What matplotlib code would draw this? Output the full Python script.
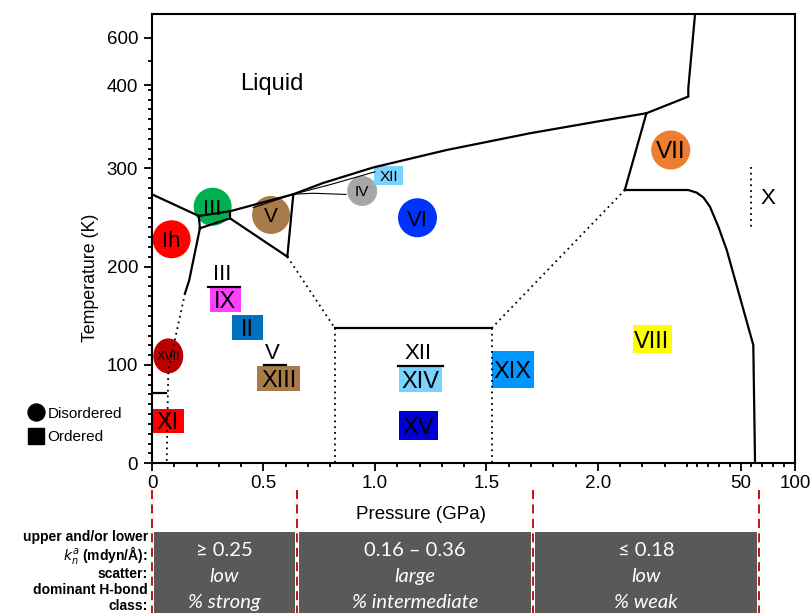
import matplotlib
matplotlib.use('Agg')
import matplotlib.pyplot as plt
import matplotlib.transforms as mtransforms
from matplotlib.patches import Ellipse, Rectangle
from matplotlib.lines import Line2D
import numpy as np

plt.rcParams['font.family'] = ['Liberation Sans', 'DejaVu Sans']

# Break points of the compressed pressure / temperature axes
p_knots = [0, 2.4, 10, 100]
p_units = [0, 535, 545, 643]
t_knots = [0, 384, 400, 600, 700]
t_units = [0, 377.5, 378.3, 425.6, 449]

# Coexistence lines, (P in GPa, T in K)
ih_liquid = ([0, 0.21], [273.6, 251.6])
ih_iii = ([0.21, 0.215], [251.6, 239.1])
ih_ii = ([0.215, 0.167, 0.148], [239.1, 186.3, 172.9])
ih_xi = ([0, 0.061], [71.2, 71.2])
iii_liquid = ([0.21, 0.35], [251.6, 256.4])
v_liquid = ([0.35, 0.634], [256.4, 273.7])
iii_v = ([0.35, 0.35], [256.4, 249.2])
ii_iii = ([0.215, 0.35], [239.1, 249.2])
ii_v = ([0.35, 0.607], [249.2, 210.2])
v_vi = ([0.634, 0.607], [273.7, 210.2])
vi_xv = ([0.8206, 1.523], [137.3, 137.3])
liquid_vi = ([0.634, 0.767, 0.992, 1.322, 1.695, 1.994, 2.218],
             [273.7, 285.1, 300.9, 318.7, 335.7, 347.5, 356.1])
vi_vii = ([2.218, 2.121], [356.1, 278])
liquid_vii = ([2.218, 3.39, 3.39, 8.5], [356.1, 373, 381.5, 700])
vii_viii = ([2.121, 3.39, 9.77, 16.0, 21.9, 29.6, 37.3, 61.7, 63.3],
            [278, 278, 275.3, 270.3, 261, 240.7, 217, 120.3, 0])

# Metastable melting lines of IV and XII
iv_liquid = ([0.454, 0.634, 0.722, 0.87], [260, 273.7, 274.7, 273.5])
xii_liquid = ([0.634, 0.80, 1.0], [273.7, 283.5, 296.5])

# Order-disorder transitions (dotted)
ih_xi_dotted = ([0.148, 0.0731, 0.0659], [172.9, 94.9, 0])
ii_vi_dotted = ([0.607, 0.8206], [210.2, 137.3])
xv_left = ([0.8206, 0.8206], [137.3, 0])
xv_right = ([1.523, 1.523], [137.3, 0])
xix_viii = ([1.523, 2.121], [137.3, 278])
vii_x = ([59.3, 59.3], [301.7, 239.4])

# Disordered phases (circles)
disordered = ['Ih', 'III', 'V', 'IV', 'VI', 'VII', 'XVII']
disordered_p = [0.088, 0.272, 0.534, 0.943, 1.191, 2.327, 0.073]
disordered_t = [227.9, 261.0, 252.6, 277.0, 249.8, 318.7, 109.2]
disordered_colors = ['#FF0000', '#00B050', '#A97B48', '#A6A6A6',
                     '#0033FF', '#ED7D31', '#BC0000']

# Ordered phases (boxes)
ordered = ['XI', 'IX', 'II', 'XIII', 'XIV', 'XV', 'XIX', 'XII', 'VIII']
ordered_p = [0.072, 0.329, 0.429, 0.568, 1.203, 1.194, 1.618, 1.061, 2.243]
ordered_t = [43.5, 166.4, 138.1, 86.5, 85.6, 38.5, 95.6, 293.0, 126.2]
ordered_colors = ['#FF0000', '#FF40FF', '#0070C0', '#A97B48', '#7AD3FF',
                  '#0000D6', '#0096FF', '#7AD3FF', '#FFFF00']

# Disordered parent written over its ordered form
stacked_parent = ['III', 'V', 'XII']
stacked_child = ['IX', 'XIII', 'XIV']

# Axis ticks
p_major = [0, 0.5, 1.0, 1.5, 2.0, 50, 100]
p_major_labels = ['0', '0.5', '1.0', '1.5', '2.0', '50', '100']
p_minor = [round(0.1 * i, 1) for i in range(1, 25) if i % 5] + [10, 20, 30, 40, 60, 70, 80, 90]
t_major = [0, 100, 200, 300, 400, 600]
t_minor = [t for t in range(10, 300, 10) if t % 100] + list(range(310, 390, 10)) + [500]

# H-bond force constant table below the axis
column_edges = [0, 0.65, 1.707, 67.2]
k_ranges = ['\u2265 0.25', '0.16 \u2013 0.36', '\u2264 0.18']
scatter_level = ['low', 'large', 'low']
hbond_class = ['% strong', '% intermediate', '% weak']
row_names = ['upper and/or lower', '$k_n^a$ (mdyn/\u00c5):', 'scatter:',
             'dominant H-bond', 'class:']


def piecewise(v, xs, ys):
    v = np.asarray(v, dtype=float)
    out = np.interp(v, xs, ys)
    lo = (ys[1] - ys[0]) / (xs[1] - xs[0])
    hi = (ys[-1] - ys[-2]) / (xs[-1] - xs[-2])
    out = np.where(v < xs[0], ys[0] + (v - xs[0]) * lo, out)
    out = np.where(v > xs[-1], ys[-1] + (v - xs[-1]) * hi, out)
    return out


fig = plt.figure(figsize=(8.11, 6.13), dpi=100)
ax = fig.add_axes([152 / 811, 1 - 463.3 / 613, 643 / 811, 449 / 613])
ax.set_xscale('function', functions=(lambda v: piecewise(v, p_knots, p_units),
                                     lambda u: piecewise(u, p_units, p_knots)))
ax.set_yscale('function', functions=(lambda v: piecewise(v, t_knots, t_units),
                                     lambda u: piecewise(u, t_units, t_knots)))

solid = dict(color='black', lw=1.6, solid_joinstyle='miter', zorder=4)
thin = dict(color='black', lw=0.8, zorder=4)
dotted = dict(color='black', lw=1.3, linestyle=(0, (1, 2.2)), zorder=4)

for line in [ih_liquid, ih_iii, ih_ii, ih_xi, iii_liquid, v_liquid, iii_v, ii_iii,
             ii_v, v_vi, vi_xv, liquid_vi, vi_vii, liquid_vii, vii_viii]:
    ax.plot(*line, **solid)
for line in [iv_liquid, xii_liquid]:
    ax.plot(*line, **thin)
for line in [ih_xi_dotted, ii_vi_dotted, xv_left, xv_right, xix_viii, vii_x]:
    ax.plot(*line, **dotted)


def anchored(p, t):
    # inch-sized shapes centred on a data point
    return fig.dpi_scale_trans + mtransforms.ScaledTranslation(p, t, ax.transData)


circle_px = [(38, 38), (38, 38), (38, 38), (30, 30), (39, 39), (39, 39), (30, 35)]
circle_fs = [16, 16, 15, 11, 16, 17.5, 9]
for name, p, t, c, (w, h), fs in zip(disordered, disordered_p, disordered_t,
                                     disordered_colors, circle_px, circle_fs):
    ax.add_patch(Ellipse((0, 0), w / 100, h / 100, transform=anchored(p, t),
                         facecolor=c, edgecolor='none', zorder=2))
    ax.text(p, t, name, ha='center', va='center_baseline', fontsize=fs, zorder=6)

box_px = [(32, 24), (31, 24), (31, 25), (43, 25), (43, 25), (39, 29), (42, 37), (29, 19), (39, 28)]
box_fs = [17, 17, 17, 17, 17, 17, 17, 11, 17]
for name, p, t, c, (w, h), fs in zip(ordered, ordered_p, ordered_t,
                                     ordered_colors, box_px, box_fs):
    ax.add_patch(Rectangle((-w / 200, -h / 200), w / 100, h / 100,
                           transform=anchored(p, t), facecolor=c,
                           edgecolor='none', zorder=2))
    ax.text(p, t, name, ha='center', va='center_baseline', fontsize=fs, zorder=6)

# parent label + bar above the ordered box
parent_dx = [-3, -6, -2]
bar_dx = [-1, -4, 0]
bar_w = [32, 22, 45]
for parent, child, pdx, bdx, bw in zip(stacked_parent, stacked_child, parent_dx, bar_dx, bar_w):
    i = ordered.index(child)
    p, t = ordered_p[i], ordered_t[i]
    h = box_px[i][1]
    ax.add_line(Line2D([(bdx - bw / 2) / 100, (bdx + bw / 2) / 100],
                       [(h / 2 + 1) / 100] * 2, transform=anchored(p, t),
                       color='black', lw=1.6, zorder=5))
    ax.annotate(parent, (p, t), xytext=(pdx * 0.72, 27.7 * 0.72),
                textcoords='offset points', ha='center', va='center_baseline',
                fontsize=16, zorder=6)

ax.text(0.538, 415, 'Liquid', ha='center', va='center_baseline', fontsize=17)
ax.text(75.2, 271.5, 'X', ha='center', va='center_baseline', fontsize=16)

ax.set_xlim(0, 100)
ax.set_ylim(0, 700)
ax.set_xticks(p_major)
ax.set_xticklabels(p_major_labels)
ax.set_xticks(p_minor, minor=True)
ax.set_yticks(t_major)
ax.set_yticks(t_minor, minor=True)
ax.tick_params(which='both', direction='out', width=1.3, labelsize=13.5, top=False, right=False)
ax.tick_params(which='major', length=5.5)
ax.tick_params(which='minor', length=3)
ax.tick_params(axis='y', pad=4.5)
ax.tick_params(axis='x', pad=3)
for s in ax.spines.values():
    s.set_linewidth(1.5)

ax.set_xlabel('Pressure (GPa)', fontsize=13.5)
ax.xaxis.set_label_coords((421 - 152) / 643, -0.095)
ax.set_ylabel('Temperature (K)', fontsize=12.8)
ax.yaxis.set_label_coords(-0.083, 0.412)

legend_handles = [Line2D([], [], marker='o', color='black', ls='none', markersize=12.2),
                  Line2D([], [], marker='s', color='black', ls='none', markersize=12)]
ax.legend(legend_handles, ['Disordered', 'Ordered'], loc='upper left',
          bbox_to_anchor=(27.2 / 811, 1 - 406.5 / 613), bbox_transform=fig.transFigure,
          frameon=False, fontsize=11, borderpad=0, borderaxespad=0,
          handlelength=1.11, handletextpad=0.23, labelspacing=0.65)

# table of H-bond force constants, one grey column per pressure range
edge_px = [ax.transData.transform((p, 10))[0] for p in column_edges]
band = mtransforms.blended_transform_factory(ax.transData, fig.transFigure)
for p in column_edges:
    fig.add_artist(Line2D([p, p], [1 - 490 / 613, 0], transform=band,
                          color='#C00000', lw=1.3, linestyle=(0, (5, 3))))
for j in range(3):
    x0 = edge_px[j] + 2.3
    x1 = edge_px[j + 1] - 2
    fig.add_artist(Rectangle((x0 / 811, 0), (x1 - x0) / 811, 1 - 532.3 / 613,
                             transform=fig.transFigure, facecolor='#595959',
                             edgecolor='none', zorder=0))
    xc = (x0 + x1) / 2 / 811
    fig.text(xc, 1 - 550.5 / 613, k_ranges[j], ha='center', va='center',
             color='white', fontsize=14.5, family=['Lato', 'DejaVu Sans'])
    fig.text(xc, 1 - 576.7 / 613, scatter_level[j], ha='center', va='center',
             color='white', fontsize=14.5, style='italic', family=['Lato', 'DejaVu Sans'])
    fig.text(xc, 1 - 602.7 / 613, hbond_class[j], ha='center', va='center',
             color='white', fontsize=14.5, style='italic', family=['Lato', 'DejaVu Sans'])

for name, y in zip(row_names, [537, 555, 574, 590, 606]):
    fig.text(148 / 811, 1 - y / 613, name, ha='right', va='center',
             fontsize=10, fontweight='bold')

fig.savefig('out.png', dpi=100)
